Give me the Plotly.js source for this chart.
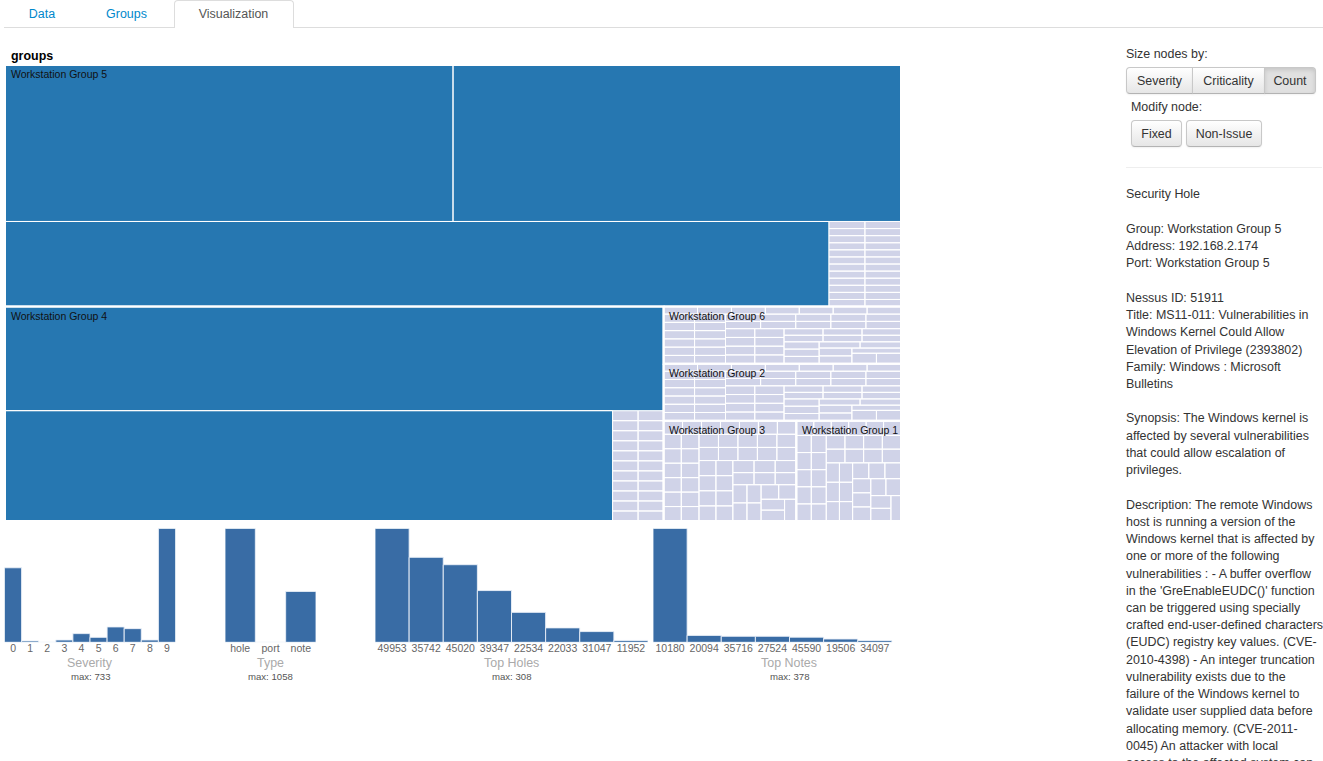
<!DOCTYPE html>
<html>
<head>
<meta charset="utf-8">
<script src="https://cdn.plot.ly/plotly-3.0.1.min.js"></script>
<style>
html, body { margin:0; padding:0; background:#fff; overflow:hidden; }
body { width:1323px; height:761px; position:relative; font-family:"Liberation Sans", Arial, Helvetica, sans-serif; color:#333; }
#plot { position:absolute; left:0; top:0; width:1323px; height:761px; }
.tabline { position:absolute; left:4px; right:0; top:27px; height:0; border-top:1px solid #ddd; }
.tab { position:absolute; top:1px; height:27px; line-height:27px; font-size:12.45px; text-align:center; color:#0088cc; z-index:5; }
.tab.active { top:0; box-sizing:border-box; height:28px; line-height:27px; border:1px solid #ddd; border-bottom:none; background:#fff; color:#555; border-radius:4px 4px 0 0; }
.lbl { position:absolute; font-size:12.45px; line-height:17.23px; color:#333; white-space:nowrap; z-index:5; }
.btn { position:absolute; box-sizing:border-box; height:27px; line-height:26px; font-size:12.45px; text-align:center; color:#333;
       border:1px solid #c8c8c8; border-bottom-color:#b3b3b3; background:linear-gradient(#ffffff, #e6e6e6);
       box-shadow: inset 0 1px 0 rgba(255,255,255,.3), 0 1px 2px rgba(0,0,0,.06); z-index:5; }
.btn.active { background:#e0e0e0; box-shadow: inset 0 2px 4px rgba(0,0,0,.12), 0 1px 2px rgba(0,0,0,.05); }
.hr { position:absolute; left:1126px; width:196px; top:167px; border-top:1px solid #eee; border-bottom:1px solid #fff; z-index:5; }
.info { position:absolute; left:1126px; top:186.4px; font-size:12.45px; line-height:17.23px; color:#333; white-space:nowrap; z-index:5; }
</style>
</head>
<body>
<div id="plot"></div>

<div class="tabline"></div>
<div class="tab" style="left:17px;width:50px;">Data</div>
<div class="tab" style="left:96px;width:61px;">Groups</div>
<div class="tab active" style="left:173.5px;width:120px;">Visualization</div>

<div class="lbl" style="left:1126px;top:45.9px;">Size nodes by:</div>
<div class="btn" style="left:1126px;top:67px;width:67px;border-radius:4px 0 0 4px;">Severity</div>
<div class="btn" style="left:1192px;top:67px;width:73px;border-radius:0;">Criticality</div>
<div class="btn active" style="left:1264px;top:67px;width:52px;border-radius:0 4px 4px 0;">Count</div>
<div class="lbl" style="left:1131px;top:99.2px;">Modify node:</div>
<div class="btn" style="left:1131px;top:120px;width:51px;border-radius:4px;">Fixed</div>
<div class="btn" style="left:1186px;top:120px;width:76px;border-radius:4px;">Non-Issue</div>
<div class="hr"></div>

<div class="info">
Security Hole<br><br>
Group: Workstation Group 5<br>
Address: 192.168.2.174<br>
Port: Workstation Group 5<br><br>
Nessus ID: 51911<br>
Title: MS11-011: Vulnerabilities in<br>
Windows Kernel Could Allow<br>
Elevation of Privilege (2393802)<br>
Family: Windows : Microsoft<br>
Bulletins<br><br>
Synopsis: The Windows kernel is<br>
affected by several vulnerabilities<br>
that could allow escalation of<br>
privileges.<br><br>
Description: The remote Windows<br>
host is running a version of the<br>
Windows kernel that is affected by<br>
one or more of the following<br>
vulnerabilities : - A buffer overflow<br>
in the 'GreEnableEUDC()' function<br>
can be triggered using specially<br>
crafted end-user-defined characters<br>
(EUDC) registry key values. (CVE-<br>
2010-4398) - An integer truncation<br>
vulnerability exists due to the<br>
failure of the Windows kernel to<br>
validate user supplied data before<br>
allocating memory. (CVE-2011-<br>
0045) An attacker with local<br>
access to the affected system can
</div>

<script>
// ---------------- DATA ----------------
// Treemap: groups (alphabetical input order) and their leaf counts
const groupNames = ['Workstation Group 1', 'Workstation Group 2', 'Workstation Group 3',
                    'Workstation Group 4', 'Workstation Group 5', 'Workstation Group 6'];
// large "hole" leaves (blue) per group
const ws1Holes = [];
const ws2Holes = [];
const ws3Holes = [];
const ws4Holes = [268, 262];
const ws5Holes = [274, 274, 274];
const ws6Holes = [];
// small leaves (lavender) per group
const ws1Notes = [1,1,1,1,1,1,1,1,1,1,1,1,1,1,1,1,1,1,1,1,1,1,1,1,1,1,1,1,1,1,1,1,1,1,1,1,1,1,1,1,1];
const ws2Notes = [1,1,1,1,1,1,1,1,1,1,1,1,1,1,1,1,1,1,1,1,1,1,1,1,1,1,1,1,1,1,1,1,1,1,1,1,1,1,1,1,1,1,1,1,1,1,1,1,1,1,1,1,1];
const ws3Notes = [1,1,1,1,1,1,1,1,1,1,1,1,1,1,1,1,1,1,1,1,1,1,1,1,1,1,1,1,1,1,1,1,1,1,1,1,1,1,1,1,1,1,1,1,1,1,1,1,1,1,1,1];
const ws4Notes = [1,1,1,1,1,1,1,1,1,1,1,1,1,1,1,1,1,1,1,1,1,1];
const ws5Notes = [1,1,1,1,1,1,1,1,1,1,1,1,1,1,1,1,1,1,1,1,1,1,1,1];
const ws6Notes = [1,1,1,1,1,1,1,1,1,1,1,1,1,1,1,1,1,1,1,1,1,1,1,1,1,1,1,1,1,1,1,1,1,1,1,1,1,1,1,1,1,1,1,1,1,1,1,1,1,1,1,1,1];

// Histograms
const sevLabels  = ['0','1','2','3','4','5','6','7','8','9'];
const sevCounts  = [480, 9, 0, 15, 56, 32, 99, 88, 15, 733];
const typeLabels = ['hole','port','note'];
const typeCounts = [1058, 0, 473];
const holeIds    = ['49953','35742','45020','39347','22534','22033','31047','11952'];
const holeCounts = [308, 230, 210, 140, 81, 39, 29, 5];
const noteIds    = ['10180','20094','35716','27524','45590','19506','34097'];
const noteCounts = [378, 23, 20, 20, 17, 11, 6];

// ---------------- STYLE / GEOMETRY ----------------
const W = 1323, H = 761;
const FONT = '"Liberation Sans", Arial, Helvetica, sans-serif';
const fx = p => p / W;
const fy = p => 1 - p / H;
const TM = {x0: 5, x1: 901, y0: 65, y1: 521};
const HOLE_COLOR = '#2677b1';
const NOTE_COLOR = '#d0d3e8';
const BAR_COLOR = '#396ca5';

// ---------------- TREEMAP LAYOUT (zoomable-treemap style squarify) ----------------
const ratio = (TM.y1 - TM.y0) / (TM.x1 - TM.x0) * 0.5 * (1 + Math.sqrt(5));

function worst(row, u) {
  let s = row.area, rmax = 0, rmin = Infinity;
  for (const c of row) { const r = c.area; if (!r) continue; if (r < rmin) rmin = r; if (r > rmax) rmax = r; }
  s *= s; u *= u;
  return s ? Math.max((u * rmax * ratio) / s, s / (u * rmin * ratio)) : Infinity;
}
function position(row, u, rect, flush) {
  let x = rect.x, y = rect.y, v = u ? row.area / u : 0, o;
  if (u == rect.dx) {
    if (flush || v > rect.dy) v = rect.dy;
    for (let i = 0; i < row.length; i++) {
      o = row[i]; o.x = x; o.y = y; o.dy = v;
      x += o.dx = Math.min(rect.x + rect.dx - x, v ? o.area / v : 0);
    }
    o.dx += rect.x + rect.dx - x;
    rect.y += v; rect.dy -= v;
  } else {
    if (flush || v > rect.dx) v = rect.dx;
    for (let i = 0; i < row.length; i++) {
      o = row[i]; o.x = x; o.y = y; o.dx = v;
      y += o.dy = Math.min(rect.y + rect.dy - y, v ? o.area / v : 0);
    }
    o.dy += rect.y + rect.dy - y;
    rect.x += v; rect.dx -= v;
  }
}
function squarify(children) {
  const rect = {x: 0, y: 0, dx: 1, dy: 1};
  const total = children.reduce((s, c) => s + c.value, 0);
  const remaining = children.slice().sort((a, b) => a.value - b.value);
  remaining.forEach(c => { c.area = c.value * (rect.dx * rect.dy / total); });
  const row = []; row.area = 0;
  let best = Infinity, u = Math.min(rect.dx, rect.dy);
  while (remaining.length > 0) {
    const child = remaining[remaining.length - 1];
    row.push(child); row.area += child.area;
    const score = worst(row, u);
    if (score <= best) { remaining.pop(); best = score; }
    else {
      row.area -= row.pop().area;
      position(row, u, rect, false);
      u = Math.min(rect.dx, rect.dy);
      row.length = 0; row.area = 0; best = Infinity;
    }
  }
  if (row.length) position(row, u, rect, true);
}

const holeLists = [ws1Holes, ws2Holes, ws3Holes, ws4Holes, ws5Holes, ws6Holes];
const noteLists = [ws1Notes, ws2Notes, ws3Notes, ws4Notes, ws5Notes, ws6Notes];
const groups = groupNames.map((name, i) => {
  const children = holeLists[i].map(v => ({value: v, kind: 'hole'}))
    .concat(noteLists[i].map(v => ({value: v, kind: 'note'})));
  return {name, children, value: children.reduce((s, c) => s + c.value, 0)};
});
squarify(groups);
groups.forEach(g => {
  squarify(g.children);
  g.children.forEach(c => {
    c.x = g.x + c.x * g.dx; c.y = g.y + c.y * g.dy;
    c.dx *= g.dx; c.dy *= g.dy;
  });
});

function rectPath(list) {
  const xs = [], ys = [];
  list.forEach(r => {
    xs.push(r.x, r.x + r.dx, r.x + r.dx, r.x, r.x, null);
    ys.push(r.y, r.y, r.y + r.dy, r.y + r.dy, r.y, null);
  });
  return {xs, ys};
}
const leaves = groups.flatMap(g => g.children);
const holePath = rectPath(leaves.filter(c => c.kind === 'hole'));
const notePath = rectPath(leaves.filter(c => c.kind === 'note'));
const groupPath = rectPath(groups);

const traces = [
  {type: 'scatter', mode: 'lines', x: notePath.xs, y: notePath.ys, fill: 'toself', fillcolor: NOTE_COLOR,
   line: {color: '#ffffff', width: 1}, xaxis: 'x', yaxis: 'y', hoverinfo: 'skip'},
  {type: 'scatter', mode: 'lines', x: holePath.xs, y: holePath.ys, fill: 'toself', fillcolor: HOLE_COLOR,
   line: {color: '#ffffff', width: 1}, xaxis: 'x', yaxis: 'y', hoverinfo: 'skip'},
  {type: 'scatter', mode: 'lines', x: groupPath.xs, y: groupPath.ys,
   line: {color: '#ffffff', width: 2}, xaxis: 'x', yaxis: 'y', hoverinfo: 'skip'}
];

// ---------------- HISTOGRAMS ----------------
const charts = [
  {labels: sevLabels, counts: sevCounts, title: 'Severity', px: [4.5, 175.5], slots: sevLabels.length},
  {labels: typeLabels, counts: typeCounts, title: 'Type', px: [225, 316], slots: typeLabels.length},
  {labels: holeIds, counts: holeCounts, title: 'Top Holes', px: [375, 648], slots: holeIds.length},
  {labels: noteIds, counts: noteCounts, title: 'Top Notes', px: [653, 926], slots: 8}
];
const BAR_TOP = 528.5, BAR_BASE = 642.3;

const layout = {
  width: W, height: H,
  margin: {l: 0, r: 0, t: 0, b: 0},
  paper_bgcolor: 'rgba(0,0,0,0)', plot_bgcolor: 'rgba(0,0,0,0)',
  showlegend: false, hovermode: false, bargap: 0,
  font: {family: FONT, color: '#333'},
  xaxis: {domain: [fx(TM.x0), fx(TM.x1)], range: [0, 1], visible: false, fixedrange: true},
  yaxis: {domain: [fy(TM.y1), fy(TM.y0)], range: [1, 0], visible: false, fixedrange: true},
  annotations: []
};

charts.forEach((c, i) => {
  const n = i + 2;
  traces.push({type: 'bar', x: c.labels, y: c.counts, xaxis: 'x' + n, yaxis: 'y' + n,
    marker: {color: BAR_COLOR, line: {color: 'rgba(235,241,248,0.9)', width: 1}}, hoverinfo: 'skip'});
  layout['xaxis' + n] = {domain: [fx(c.px[0]), fx(c.px[1])], anchor: 'y' + n, type: 'category',
    categoryorder: 'array', categoryarray: c.labels,
    range: [-0.5, c.slots - 0.5], showgrid: false, zeroline: false, showline: false, ticks: '',
    ticklabelstandoff: -2,
    tickangle: 0, tickfont: {family: FONT, size: 10.5, color: '#666'}, fixedrange: true};
  layout['yaxis' + n] = {domain: [fy(BAR_BASE), fy(BAR_TOP)], anchor: 'x' + n,
    range: [0, Math.max(...c.counts)], visible: false, fixedrange: true};
  const cx = fx((c.px[0] + c.px[1]) / 2);
  layout.annotations.push({xref: 'paper', yref: 'paper', x: cx, y: fy(663.3), text: c.title,
    showarrow: false, xanchor: 'center', yanchor: 'middle', font: {family: FONT, size: 12.45, color: '#aaa'}});
  layout.annotations.push({xref: 'paper', yref: 'paper', x: cx, y: fy(676.7), text: 'max: ' + Math.max(...c.counts),
    showarrow: false, xanchor: 'center', yanchor: 'middle', font: {family: FONT, size: 9.6, color: '#555'}});
});

// treemap header and group labels
layout.annotations.push({xref: 'paper', yref: 'paper', x: fx(9), y: fy(56), text: '<b>groups</b>',
  showarrow: false, xanchor: 'left', yanchor: 'middle', font: {family: FONT, size: 12.45, color: '#000'}});
groups.forEach(g => {
  layout.annotations.push({xref: 'x', yref: 'y', x: g.x, y: g.y, text: g.name, showarrow: false,
    xanchor: 'left', yanchor: 'middle', xshift: 3.5, yshift: -9.5,
    font: {family: FONT, size: 10.5, color: '#111'}});
});

Plotly.newPlot('plot', traces, layout, {staticPlot: true, displayModeBar: false});
</script>
</body>
</html>
